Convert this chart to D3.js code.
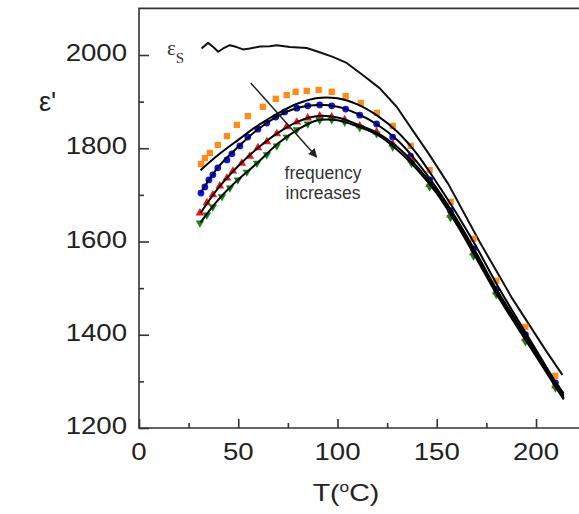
<!DOCTYPE html>
<html>
<head>
<meta charset="utf-8">
<script src="https://cdn.jsdelivr.net/npm/d3@7"></script>
<style>
  body { margin: 0; background: #fff; }
  svg { display: block; font-family: "Liberation Sans", Arial, sans-serif; }
</style>
</head>
<body>
<div id="chart"></div>
<script>
"use strict";

// measured points, T (°C) and eps'
const orangeT = [31.2, 33.2, 35.7, 39.7, 44.3, 49.3, 54.8, 62.4, 68.9, 74.4, 78.9, 84.5, 90.5, 97.1, 104.1, 111.7, 119.8, 127.8, 136.9, 146.4, 157, 168.5, 180, 194.6, 209.7];
const orangeE = [1766, 1779, 1790, 1807, 1826, 1850, 1869, 1889, 1906, 1914, 1921, 1923, 1925, 1921, 1912, 1897, 1876, 1848, 1805, 1753, 1685, 1606, 1516, 1417, 1312];

const blueT = [31.2, 33.2, 35.2, 37.2, 39.7, 44.3, 46.8, 50.8, 54.8, 59.9, 64.4, 68.9, 73.4, 79.5, 85, 91, 97.1, 104.1, 111.2, 119.7, 127.8, 136.8, 146.4, 156.9, 168.5, 180, 194.7, 209.8];
const blueE = [1704, 1717, 1732, 1743, 1758, 1775, 1788, 1805, 1824, 1841, 1854, 1867, 1878, 1886, 1891, 1893, 1891, 1884, 1871, 1852, 1824, 1783, 1732, 1666, 1584, 1498, 1400, 1297];

const redT = [30.7, 34.2, 37.2, 40.7, 44.3, 47.3, 51.8, 55.8, 59.9, 64.4, 69.4, 74.4, 79.5, 85, 91, 97.1, 103.6, 111.2, 119.7, 127.8, 137.3, 146.4, 156.9, 168.5, 180, 194.7, 209.8];
const redE = [1661, 1683, 1700, 1719, 1736, 1751, 1768, 1783, 1801, 1814, 1831, 1846, 1856, 1865, 1869, 1867, 1861, 1848, 1835, 1809, 1775, 1722, 1657, 1576, 1492, 1392, 1290];

const greenT = [30.7, 34.2, 37.2, 41.8, 45.8, 49.8, 54.3, 59.4, 64.4, 69.4, 74.4, 79.5, 85, 91, 97.1, 103.6, 111.2, 119.7, 127.8, 137.3, 146.4, 156.9, 168.5, 180, 194.7, 209.8];
const greenE = [1640, 1657, 1674, 1696, 1715, 1732, 1749, 1768, 1786, 1805, 1824, 1840, 1852, 1860, 1861, 1856, 1844, 1831, 1803, 1768, 1717, 1651, 1569, 1486, 1385, 1286];

// fitted curves
const fitT = [31, 40, 50, 60, 70, 80, 90, 100, 110, 120, 130, 140, 150, 160, 170, 180, 190, 200, 210, 214];
const fit1 = [1753, 1786, 1818, 1849, 1875, 1896, 1908, 1907, 1894, 1870, 1836, 1788, 1726, 1660, 1588, 1510, 1438, 1368, 1298, 1274];
const fit2 = [1704, 1760, 1803, 1841, 1869, 1887, 1893, 1889, 1874, 1851, 1818, 1771, 1714, 1648, 1575, 1498, 1431, 1363, 1294, 1269];
const fit3 = [1661, 1715, 1762, 1801, 1833, 1857, 1869, 1866, 1851, 1833, 1803, 1761, 1708, 1643, 1570, 1492, 1425, 1358, 1290, 1264];
const fit4 = [1641, 1690, 1733, 1770, 1810, 1840, 1860, 1860, 1847, 1829, 1797, 1755, 1703, 1637, 1563, 1488, 1420, 1354, 1287, 1261];

// static permittivity eps_s
const epsT = [31.5, 34.8, 37.4, 39.9, 42.4, 45.8, 49.2, 52.5, 55.8, 60.9, 65.9, 69.4, 76, 84.5, 91, 97.6, 104.6, 112.7, 121.2, 129.8, 137.8, 146, 156, 171.5, 188, 205, 213.3];
const epsE = [2014, 2026, 2017, 2007, 2014, 2021, 2017, 2012, 2014, 2018, 2019, 2021, 2017, 2015, 2006, 1996, 1983, 1957, 1929, 1889, 1839, 1788, 1722, 1600, 1478, 1366, 1314];

const xTicks = [0, 50, 100, 150, 200];
const xMinor = [25, 75, 125, 175];
const yTicks = [1200, 1400, 1600, 1800, 2000];
const yMinor = [1300, 1500, 1700, 1900];

const width = 579;
const height = 514;
const sx = 1.2;  // tick labels look stretched sideways

const x = d3.scaleLinear().domain([0, 200]).range([139, 536]);
const y = d3.scaleLinear().domain([1200, 2000]).range([428, 55]);

const svg = d3.select("#chart").append("svg")
    .attr("width", width)
    .attr("height", height);

const zip = (a, b) => a.map((t, i) => [t, b[i]]);

const line = d3.line()
    .x(d => x(d[0]))
    .y(d => y(d[1]))
    .curve(d3.curveCatmullRom);

// eps_s curve
svg.append("path")
    .attr("d", d3.line().x(d => x(d[0])).y(d => y(d[1])).curve(d3.curveLinear)(zip(epsT, epsE)))
    .attr("fill", "none")
    .attr("stroke", "#111")
    .attr("stroke-width", 2)
    .attr("stroke-linejoin", "round");

// markers
const sym = (type, size) => d3.symbol().type(type).size(size)();

function markers(ts, es, color, path, rot) {
    svg.append("g")
        .selectAll("path")
        .data(zip(ts, es))
        .join("path")
        .attr("d", path)
        .attr("fill", color)
        .attr("transform", d => `translate(${x(d[0])},${y(d[1])})` + (rot ? " rotate(180)" : ""));
}

markers(orangeT, orangeE, "#ff8c1a", sym(d3.symbolSquare, 40));
markers(blueT, blueE, "#1010ff", sym(d3.symbolCircle, 36));
markers(redT, redE, "#ff1010", sym(d3.symbolTriangle, 32));
markers(greenT, greenE, "#0a8a0a", sym(d3.symbolTriangle, 30), true);

// fitted lines
[fit1, fit2, fit3, fit4].forEach(f => {
    svg.append("path")
        .attr("d", line(zip(fitT, f)))
        .attr("fill", "none")
        .attr("stroke", "#000")
        .attr("stroke-width", 2);
});

// frame
const frame = svg.append("g").attr("stroke", "#333").attr("stroke-width", 1.6).attr("fill", "none");
frame.append("path")
    .attr("d", `M${x(240)},${y(2100)}H${x(0)}V${y(1200)}H${x(240)}`);

// axes, ticks pointing inward
svg.append("g")
    .attr("transform", `translate(0,${y(1200)})`)
    .call(d3.axisTop(x).tickValues(xTicks).tickSize(9).tickFormat(""))
    .call(g => g.select(".domain").remove());

svg.append("g")
    .attr("transform", `translate(0,${y(1200)})`)
    .call(d3.axisTop(x).tickValues(xMinor).tickSize(5).tickFormat(""))
    .call(g => g.select(".domain").remove());

svg.append("g")
    .attr("transform", `translate(${x(0)},0)`)
    .call(d3.axisRight(y).tickValues(yTicks).tickSize(10).tickFormat(""))
    .call(g => g.select(".domain").remove());

svg.append("g")
    .attr("transform", `translate(${x(0)},0)`)
    .call(d3.axisRight(y).tickValues(yMinor).tickSize(5).tickFormat(""))
    .call(g => g.select(".domain").remove());

svg.selectAll(".tick line").attr("stroke", "#333").attr("stroke-width", 1.6);

// tick labels
svg.append("g")
    .selectAll("text")
    .data(xTicks)
    .join("text")
    .attr("transform", d => `translate(${x(d)},460) scale(${sx},1)`)
    .attr("text-anchor", "middle")
    .attr("font-size", 23)
    .attr("fill", "#222")
    .text(d => d);

svg.append("g")
    .selectAll("text")
    .data(yTicks)
    .join("text")
    .attr("transform", d => `translate(127,${y(d) + 6}) scale(${sx},1)`)
    .attr("text-anchor", "end")
    .attr("font-size", 23)
    .attr("fill", "#222")
    .text(d => d);

// axis titles
const xt = svg.append("text")
    .attr("transform", `translate(346,501) scale(1.24,1)`)
    .attr("text-anchor", "middle")
    .attr("font-size", 23)
    .attr("fill", "#222");
xt.append("tspan").text("T(");
xt.append("tspan").attr("dy", -9).attr("font-size", 14).text("o");
xt.append("tspan").attr("dy", 9).text("C)");

svg.append("text")
    .attr("x", 39)
    .attr("y", 111)
    .attr("font-size", 27)
    .attr("fill", "#222")
    .text("ε'");

// eps_s label
const es = svg.append("text")
    .attr("x", 167)
    .attr("y", 55)
    .attr("font-family", "'Liberation Serif', 'Times New Roman', serif")
    .attr("font-size", 21)
    .attr("fill", "#333");
es.append("tspan").text("ε");
es.append("tspan").attr("dy", 8).attr("font-size", 15).text("S");

// arrow
const a0 = [56.3, 1940], a1 = [89.5, 1781];
svg.append("defs").append("marker")
    .attr("id", "head")
    .attr("viewBox", "0 0 10 10")
    .attr("refX", 9).attr("refY", 5)
    .attr("markerWidth", 9).attr("markerHeight", 9)
    .attr("markerUnits", "userSpaceOnUse")
    .attr("orient", "auto")
  .append("path")
    .attr("d", "M0,0L10,5L0,10z")
    .attr("fill", "#222");

svg.append("line")
    .attr("x1", x(a0[0])).attr("y1", y(a0[1]))
    .attr("x2", x(a1[0])).attr("y2", y(a1[1]))
    .attr("stroke", "#222")
    .attr("stroke-width", 1.5)
    .attr("marker-end", "url(#head)");

svg.append("text")
    .attr("x", 323).attr("y", 179)
    .attr("text-anchor", "middle")
    .attr("font-size", 17.5)
    .attr("fill", "#333")
    .text("frequency");

svg.append("text")
    .attr("x", 323).attr("y", 199)
    .attr("text-anchor", "middle")
    .attr("font-size", 17.5)
    .attr("fill", "#333")
    .text("increases");
</script>
</body>
</html>
